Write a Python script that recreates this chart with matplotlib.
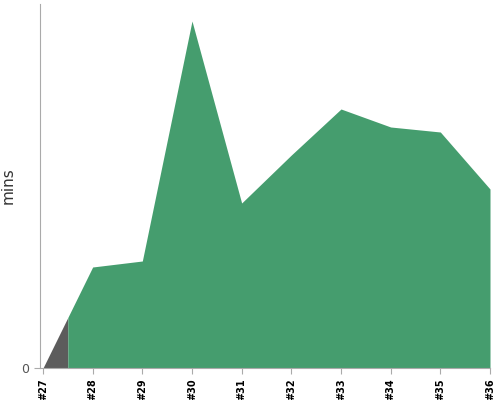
import matplotlib
matplotlib.use("Agg")
import matplotlib.pyplot as plt
import numpy as np

builds = ["#27", "#28", "#29", "#30", "#31", "#32", "#33", "#34", "#35", "#36"]
durations = [0.0, 10.1, 10.7, 34.7, 16.5, 21.3, 25.9, 24.1, 23.6, 17.9]
statuses = ["aborted", "success", "success", "success", "success",
            "success", "success", "success", "success", "success"]
status_colors = {"success": "#459d6e", "aborted": "#5c5c5c"}

fig = plt.figure(figsize=(5, 4), dpi=100)
ax = fig.add_axes([0.08, 0.08, 0.90, 0.91])

x = np.arange(len(builds))
y = np.array(durations)
n = len(builds)

# group consecutive builds with same status
runs = []
start = 0
for i in range(1, n + 1):
    if i == n or statuses[i] != statuses[start]:
        runs.append((start, i - 1, statuses[start]))
        start = i
for a, b, st in runs:
    lo = max(a - 0.5, 0)
    hi = min(b + 0.5, n - 1)
    xs = np.unique(np.concatenate([[lo, hi], x[(x > lo) & (x < hi)]]))
    ys = np.interp(xs, x, y)
    ax.fill_between(xs, 0, ys, color=status_colors[st], linewidth=0)

ax.set_xlim(-0.06, n - 1)
ax.set_ylim(0, max(durations) * 364 / 347)
ax.set_xticks(x)
ax.set_xticklabels(builds, rotation=90, fontsize=7, color="#000000",
                   fontweight="bold")
ax.set_yticks([0])
ax.set_yticklabels(["0"], fontsize=9, color="#555555")
ax.set_ylabel("mins", fontsize=11, color="#333333")
for s in ["top", "right"]:
    ax.spines[s].set_visible(False)
for s in ["left", "bottom"]:
    ax.spines[s].set_color("#aaaaaa")
ax.tick_params(axis="both", colors="#aaaaaa", length=4)
for lbl in ax.get_xticklabels():
    lbl.set_color("#000000")
for lbl in ax.get_yticklabels():
    lbl.set_color("#555555")

fig.savefig("out.png", dpi=100)
